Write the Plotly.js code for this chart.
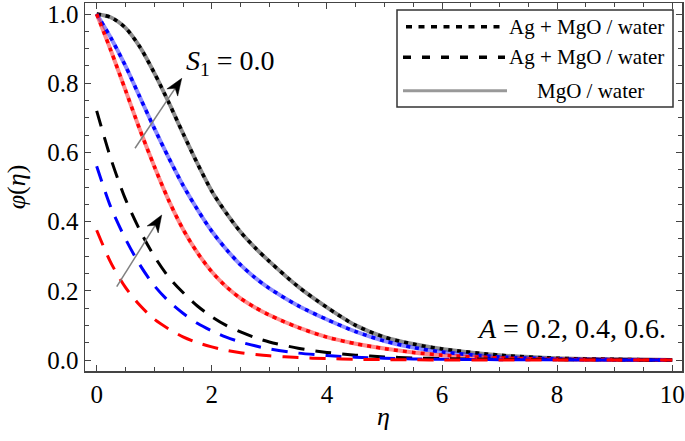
<!DOCTYPE html>
<html>
<head>
<meta charset="utf-8">
<script src="https://cdn.plot.ly/plotly-3.0.1.min.js"></script>
<style>html,body{margin:0;padding:0;background:#fff;}#chart{width:685px;height:441px;}</style>
</head>
<body>
<div id="chart"></div>
<script>
// eta grid
const eta = [0, 0.25, 0.5, 0.75, 1.0, 1.25, 1.5, 1.75, 2.0, 2.25, 2.5, 2.75, 3.0, 3.5, 4.0, 4.5, 5.0, 5.5, 6.0, 7.0, 8.0, 9.0, 10.0];

// solid (MgO/water) and dotted (Ag+MgO/water) curves, A = 0.2, 0.4, 0.6
const solidBlack = [1.0, 0.99, 0.96, 0.905, 0.83, 0.745, 0.655, 0.568, 0.488, 0.425, 0.37, 0.325, 0.285, 0.212, 0.152, 0.10, 0.066, 0.046, 0.032, 0.014, 0.005, 0.002, 0.0];
const solidBlue  = [1.0, 0.93, 0.85, 0.76, 0.67, 0.585, 0.505, 0.435, 0.372, 0.32, 0.275, 0.238, 0.207, 0.157, 0.117, 0.082, 0.055, 0.036, 0.023, 0.009, 0.003, 0.001, 0.0];
const solidRed   = [1.0, 0.893, 0.78, 0.666, 0.56, 0.462, 0.378, 0.31, 0.255, 0.212, 0.178, 0.152, 0.13, 0.094, 0.066, 0.047, 0.033, 0.022, 0.014, 0.006, 0.002, 0.001, 0.0];

// dashed curves (Ag+MgO/water, second case)
const dashBlack = [0.72, 0.58, 0.465, 0.375, 0.30, 0.24, 0.195, 0.156, 0.125, 0.10, 0.081, 0.065, 0.052, 0.034, 0.022, 0.014, 0.009, 0.006, 0.004, 0.002, 0.001, 0.0005, 0.0];
const dashBlue  = [0.56, 0.44, 0.35, 0.275, 0.215, 0.17, 0.135, 0.106, 0.084, 0.066, 0.052, 0.041, 0.032, 0.020, 0.013, 0.008, 0.005, 0.003, 0.002, 0.001, 0.0005, 0.0, 0.0];
const dashRed   = [0.375, 0.28, 0.21, 0.158, 0.118, 0.09, 0.067, 0.05, 0.038, 0.028, 0.021, 0.016, 0.012, 0.007, 0.004, 0.002, 0.001, 0.0005, 0.0, 0.0, 0.0, 0.0, 0.0];

const xTicks = [0, 2, 4, 6, 8, 10];
const yTicks = [0.0, 0.2, 0.4, 0.6, 0.8, 1.0];
const legendLabels = ["Ag + MgO / water", "Ag + MgO / water", "MgO / water"];

const FONT = "Liberation Serif, Times New Roman, Times, DejaVu Serif, serif";

function line(y, color, width, dash, name) {
  return {x: eta, y: y, type: 'scatter', mode: 'lines', name: name,
          line: {color: color, width: width, dash: dash, shape: 'spline', smoothing: 0.8},
          showlegend: false, hoverinfo: 'skip'};
}

const traces = [
  line(solidBlack, 'rgba(0,0,0,0.45)', 4, 'solid', 'MgO / water'),
  line(solidBlue,  'rgba(0,0,255,0.45)', 4, 'solid', 'MgO / water'),
  line(solidRed,   'rgba(255,0,0,0.45)', 4, 'solid', 'MgO / water'),
  line(solidBlack, '#000000', 3.5, '4px,5px', 'Ag + MgO / water'),
  line(solidBlue,  '#0000ff', 3.5, '4px,5px', 'Ag + MgO / water'),
  line(solidRed,   '#ff0000', 3.5, '4px,5px', 'Ag + MgO / water'),
  line(dashBlack, '#000000', 3, '16px,11px', 'Ag + MgO / water'),
  line(dashBlue,  '#0000ff', 3, '16px,11px', 'Ag + MgO / water'),
  line(dashRed,   '#ff0000', 3, '16px,11px', 'Ag + MgO / water')
];

// plot area in pixels and axis ranges
const L = 85, R = 682, T = 3, B = 371;
const XR = [-0.203, 10.17], YR = [-0.0318, 1.0318];
const px = v => (v - L) / (R - L);
const py = v => (B - v) / (B - T);
const x2p = x => L + (x - XR[0]) / (XR[1] - XR[0]) * (R - L);
const y2p = y => B - (y - YR[0]) / (YR[1] - YR[0]) * (B - T);
const p2x = p => XR[0] + (p - L) / (R - L) * (XR[1] - XR[0]);
const p2y = p => YR[0] + (B - p) / (B - T) * (YR[1] - YR[0]);

// arrows: tail -> tip in data units
const arrows = [
  {tail: [0.666, 0.612], tip: [1.478, 0.814]},
  {tail: [0.348, 0.212], tip: [1.13, 0.419]}
];

const shapes = [];
arrows.forEach(a => {
  const tx = x2p(a.tip[0]), ty = y2p(a.tip[1]);
  const sx = x2p(a.tail[0]), sy = y2p(a.tail[1]);
  const len = Math.hypot(tx - sx, ty - sy);
  const ux = (tx - sx) / len, uy = (ty - sy) / len;
  const nx = -uy, ny = ux;
  const HL = 17, HW = 6.5, NOTCH = 5;
  const bx = tx - HL * ux, by = ty - HL * uy;
  const pts = [
    [tx, ty],
    [bx + HW * nx, by + HW * ny],
    [tx - (HL - NOTCH) * ux, ty - (HL - NOTCH) * uy],
    [bx - HW * nx, by - HW * ny]
  ];
  shapes.push({type: 'line', xref: 'x', yref: 'y', x0: a.tail[0], y0: a.tail[1],
               x1: p2x(tx - (HL - NOTCH) * ux), y1: p2y(ty - (HL - NOTCH) * uy),
               line: {color: '#808080', width: 1.5}, layer: 'above'});
  const path = 'M ' + pts.map(p => p2x(p[0]) + ',' + p2y(p[1])).join(' L ') + ' Z';
  shapes.push({type: 'path', xref: 'x', yref: 'y', path: path, fillcolor: '#000',
               line: {color: '#000', width: 0.5}, layer: 'above'});
});

shapes.push(
  {type: 'rect', xref: 'paper', yref: 'paper', x0: px(397), x1: px(673), y0: py(107), y1: py(10),
   line: {color: '#333', width: 1.5}, fillcolor: 'rgba(255,255,255,1)', layer: 'above'},
  {type: 'line', xref: 'paper', yref: 'paper', x0: px(406), x1: px(505), y0: py(26.7), y1: py(26.7),
   line: {color: '#000', width: 3.5, dash: '6px,6.5px'}, layer: 'above'},
  {type: 'line', xref: 'paper', yref: 'paper', x0: px(403), x1: px(505), y0: py(57.3), y1: py(57.3),
   line: {color: '#000', width: 3.5, dash: '8px,11px'}, layer: 'above'},
  {type: 'line', xref: 'paper', yref: 'paper', x0: px(403), x1: px(507), y0: py(90.7), y1: py(90.7),
   line: {color: 'rgba(0,0,0,0.4)', width: 3}, layer: 'above'}
);

const annotations = [
  {xref: 'paper', yref: 'paper', x: px(666), y: py(26.7), xanchor: 'right', yanchor: 'middle',
   text: legendLabels[0], showarrow: false, font: {family: FONT, size: 21, color: '#000'}},
  {xref: 'paper', yref: 'paper', x: px(666), y: py(57.3), xanchor: 'right', yanchor: 'middle',
   text: legendLabels[1], showarrow: false, font: {family: FONT, size: 21, color: '#000'}},
  {xref: 'paper', yref: 'paper', x: px(590), y: py(90.7), xanchor: 'center', yanchor: 'middle',
   text: legendLabels[2], showarrow: false, font: {family: FONT, size: 21, color: '#000'}},
  {xref: 'paper', yref: 'paper', x: px(230), y: py(62), xanchor: 'center', yanchor: 'middle',
   text: '<i>S</i><sub>1</sub> = 0.0', showarrow: false, font: {family: FONT, size: 28, color: '#000'}},
  {xref: 'paper', yref: 'paper', x: px(668), y: py(328), xanchor: 'right', yanchor: 'middle',
   text: '<i>A</i> = 0.2, 0.4, 0.6.', showarrow: false, font: {family: FONT, size: 28, color: '#000'}}
];

const axisCommon = {
  showgrid: false, zeroline: false, showline: true, linecolor: '#444', linewidth: 1.5,
  mirror: 'allticks', ticks: 'inside', ticklen: 6, tickwidth: 1, tickcolor: '#444',
  tickfont: {family: FONT, size: 25, color: '#000'}
};

const layout = {
  width: 685, height: 441,
  margin: {l: L, r: 685 - R, t: T, b: 441 - B},
  paper_bgcolor: '#fff', plot_bgcolor: '#fff',
  font: {family: FONT},
  showlegend: false,
  xaxis: Object.assign({}, axisCommon, {
    range: XR, tickmode: 'array', tickvals: xTicks, ticktext: xTicks.map(String),
    minor: {dtick: 0.5, tick0: 0, ticks: 'inside', ticklen: 4, tickcolor: '#444'},
    title: {text: '<i>η</i>', font: {family: FONT, size: 26, color: '#000'}, standoff: 0}
  }),
  yaxis: Object.assign({}, axisCommon, {
    range: YR, tickmode: 'array', tickvals: yTicks, ticktext: yTicks.map(v => v.toFixed(1)),
    minor: {dtick: 0.05, tick0: 0, ticks: 'inside', ticklen: 4, tickcolor: '#444'},
    title: {text: '<i>φ</i>(<i>η</i>)', font: {family: FONT, size: 26, color: '#000'}, standoff: 14}
  }),
  shapes: shapes,
  annotations: annotations
};

Plotly.newPlot('chart', traces, layout, {staticPlot: true, displayModeBar: false});
</script>
</body>
</html>
